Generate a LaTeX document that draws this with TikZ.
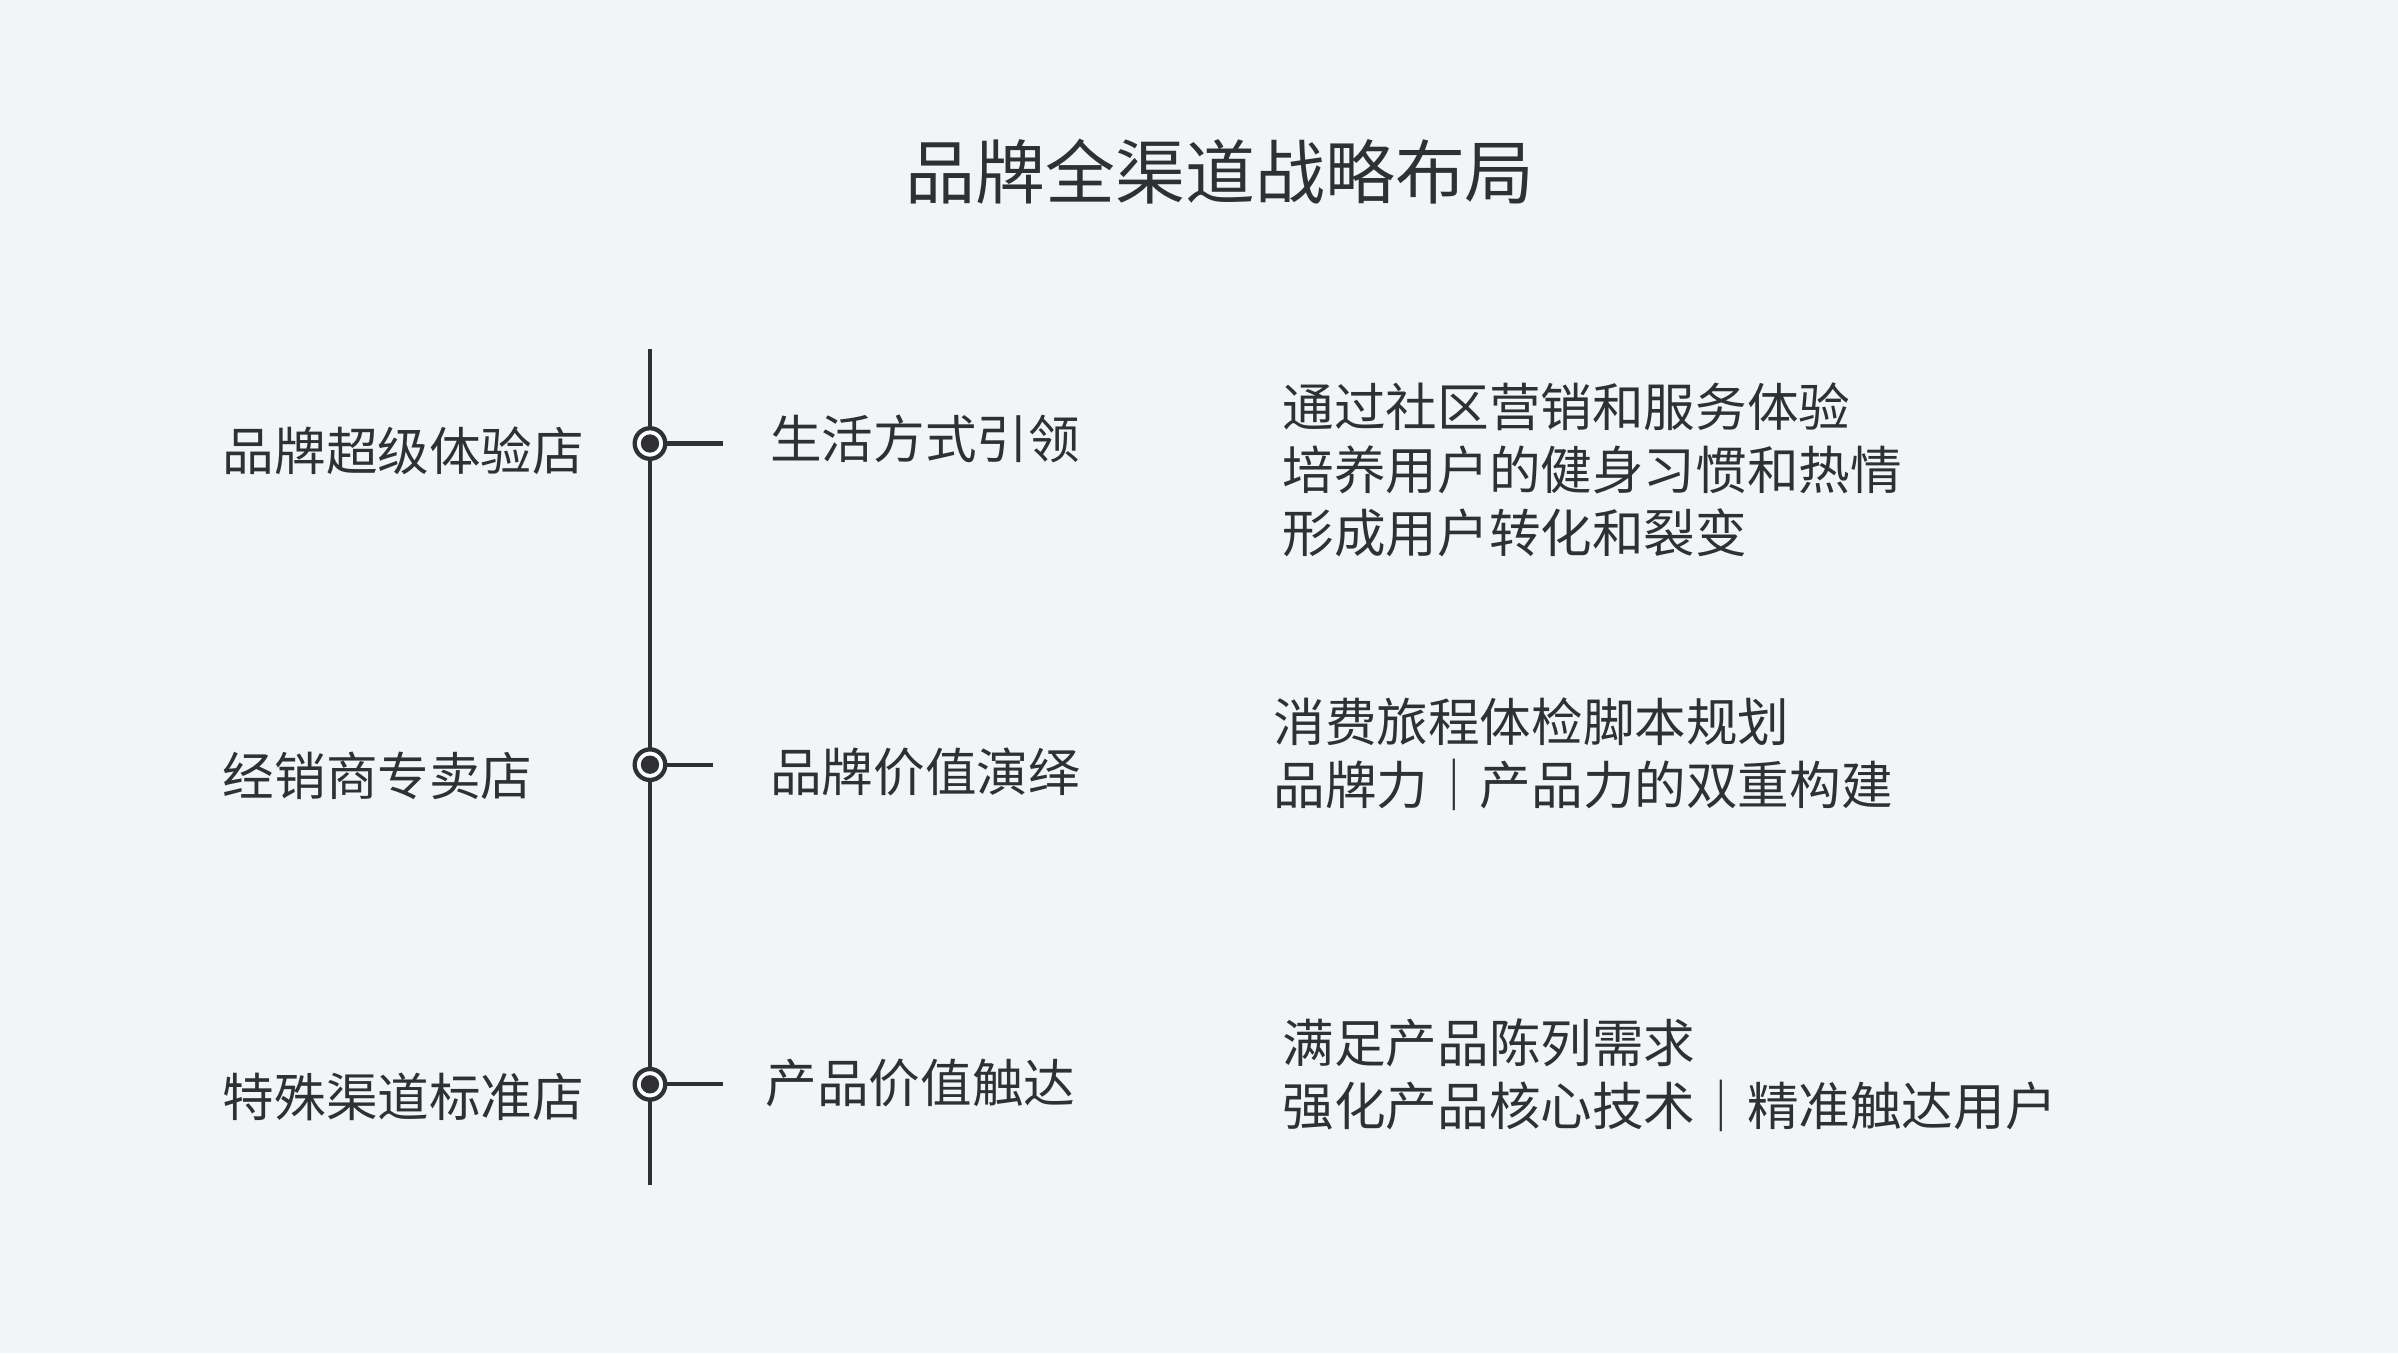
\documentclass[tikz,border=0pt]{standalone}
\usepackage{fontspec}
\setmainfont{Noto Sans CJK SC}
\usetikzlibrary{positioning}
\definecolor{bgcol}{HTML}{F2F5F8}
\definecolor{inkcol}{HTML}{2E3033}
\tikzset{
  title/.style={font=\fontsize{13}{15}\selectfont, text=inkcol, inner sep=0pt},
  store/.style={font=\fontsize{9.6}{11}\selectfont, text=inkcol, anchor=west, inner sep=0pt},
  role/.style={font=\fontsize{9.6}{11}\selectfont, text=inkcol, anchor=west, inner sep=0pt},
  note/.style={font=\fontsize{9.6}{11.7}\selectfont, text=inkcol, anchor=west, inner sep=0pt, align=left},
  dot/.style={circle, draw=inkcol, fill=white, line width=0.8pt, minimum size=0.2cm, inner sep=0pt},
  stem/.style={draw=inkcol, line width=0.8pt}
}
\begin{document}
\begin{tikzpicture}
	\fill[bgcol] (0,0) rectangle (15.68,8.85);
	\useasboundingbox (0,0) rectangle (15.68,8.85);

	\node[title] (head) at (7.98,7.73) {品牌全渠道战略布局};

	% timeline
	\coordinate (top) at (4.25,6.57);
	\coordinate (bot) at (4.25,1.10);
	\draw[stem] (top) -- (bot);

	\foreach \i/\y/\len in {1/5.95/0.48, 2/3.85/0.41, 3/1.76/0.48}{
		\node[dot] (m\i) at (4.25,\y) {};
		\fill[inkcol] (m\i.center) circle (0.06);
		\coordinate (e\i) at (4.25+\len,\y);
		\draw[stem] (m\i.east) -- (e\i);
	}

	\node[store] (s1) at (1.45,5.90) {品牌超级体验店};
	\node[store] (s2) at (1.45,3.78) {经销商专卖店};
	\node[store] (s3) at (1.45,1.68) {特殊渠道标准店};

	\node[role] (r1) at (5.03,5.98) {生活方式引领};
	\node[role] (r2) at (5.03,3.80) {品牌价值演绎};
	\node[role] (r3) at (5.00,1.77) {产品价值触达};

	\node[note] (n1) at (8.38,5.78) {通过社区营销和服务体验\\培养用户的健身习惯和热情\\形成用户转化和裂变};
	\node[note] (n2) at (8.32,3.92) {消费旅程体检脚本规划\\品牌力｜产品力的双重构建};
	\node[note] (n3) at (8.38,1.82) {满足产品陈列需求\\强化产品核心技术｜精准触达用户};
\end{tikzpicture}
\end{document}
